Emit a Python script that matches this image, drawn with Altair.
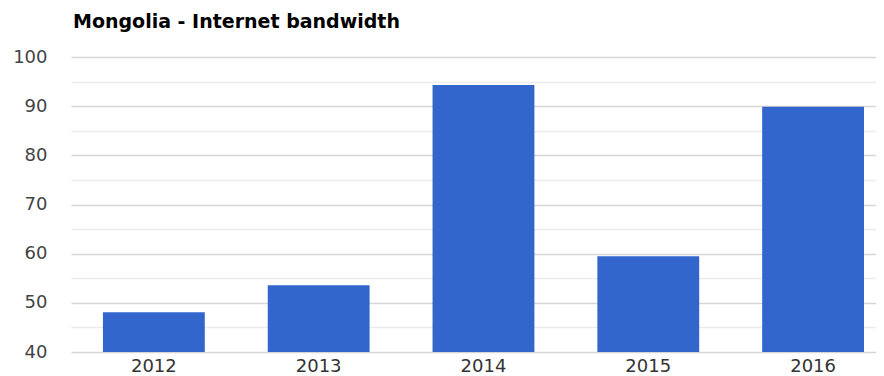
import altair as alt
import pandas as pd

years = ["2012", "2013", "2014", "2015", "2016"]
values = [48.1, 53.6, 94.3, 59.5, 89.9]
y_ticks = [40, 45, 50, 55, 60, 65, 70, 75, 80, 85, 90, 95, 100]

df = pd.DataFrame({"year": years, "value": values})

chart = alt.Chart(df).mark_bar(color="#3366cc", clip=True).encode(
    x=alt.X("year:N", title=None, sort=years,
            scale=alt.Scale(paddingInner=0.382, paddingOuter=0.1333, align=0.727),
            axis=alt.Axis(labelAngle=0, labelFont="DejaVu Sans", labelFontSize=18,
                          labelColor="#333333", ticks=False, domain=False, labelPadding=5)),
    y=alt.Y("value:Q", title=None,
            scale=alt.Scale(domain=[40, 100], nice=False, zero=False),
            axis=alt.Axis(values=y_ticks,
                          labelExpr="datum.value % 10 == 0 ? datum.label : ''",
                          labelFont="DejaVu Sans", labelFontSize=18, labelColor="#444444",
                          ticks=False, domain=False, labelPadding=24,
                          gridColor={"condition": {"test": "datum.value % 10 == 0", "value": "#d6d6d6"}, "value": "#ececec"},
                          gridWidth=1.5)),
).properties(
    width=805,
    height=295,
    title=alt.Title("Mongolia - Internet bandwidth", anchor="start", frame="group",
                    font="DejaVu Sans", fontSize=19, fontWeight="bold", color="#000000",
                    offset=16, dx=2),
    autosize=alt.AutoSizeParams(type="none"),
    padding={"left": 63, "top": 49, "right": 0, "bottom": 24},
).configure_view(stroke=None)

chart.save("out.html", embed_options={"renderer": "svg", "actions": False})
